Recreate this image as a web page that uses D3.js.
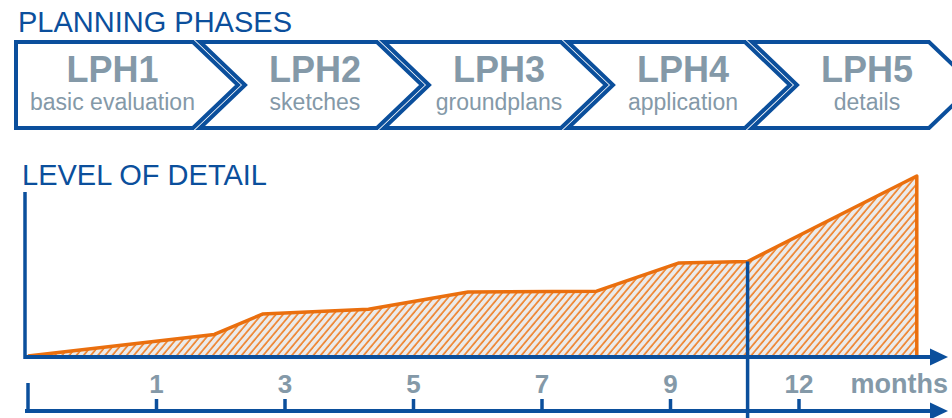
<!DOCTYPE html>
<html>
<head>
<meta charset="utf-8">
<script src="https://cdn.jsdelivr.net/npm/d3@7"></script>
<style>
  html, body { margin: 0; padding: 0; background: #fff; }
  svg { display: block; font-family: "Liberation Sans", Arial, Helvetica, sans-serif; }
</style>
</head>
<body>
<svg id="chart" width="952" height="418"></svg>
<script>
// Planning phases (chevrons)
const phaseCodes = ["LPH1", "LPH2", "LPH3", "LPH4", "LPH5"];
const phaseNames = ["basic evaluation", "sketches", "groundplans", "application", "details"];

// Timeline ticks (months)
const monthTicks = [0, 1, 3, 5, 7, 9, 12];
const tickLabels = ["", "1", "3", "5", "7", "9", "12"];

// Level of detail over time
const detailMonths = [0, 1.9, 2.65, 4.3, 5.85, 7.85, 9.2, 10.8, 14.75];
const detailLevels = [0, 12, 23.3, 26, 35.6, 36, 51.7, 52.5, 100];

// Phase boundary marker
const markerMonth = 10.8;

const BLUE = "#0b4f9c";
const GREY = "#8499a8";
const ORANGE = "#ea6f0e";

const svg = d3.select("#chart");

// ---------- hatch pattern for the area ----------
const defs = svg.append("defs");
const pat = defs.append("pattern")
  .attr("id", "hatch")
  .attr("patternUnits", "userSpaceOnUse")
  .attr("width", 5.5).attr("height", 10)
  .attr("patternTransform", "rotate(40)");
pat.append("rect").attr("width", 5.5).attr("height", 10).attr("fill", "#ebebeb");
pat.append("line")
  .attr("x1", 1).attr("y1", 0).attr("x2", 1).attr("y2", 10)
  .attr("stroke", "#ef7d22").attr("stroke-width", 1.6);

// ---------- titles ----------
svg.append("text").attr("x", 18).attr("y", 32)
  .attr("font-size", 29).attr("fill", BLUE).text("PLANNING PHASES");
svg.append("text").attr("x", 22).attr("y", 185)
  .attr("font-size", 29).attr("fill", BLUE).text("LEVEL OF DETAIL");

// ---------- chevrons ----------
const band = d3.scaleBand().domain(phaseCodes).range([16, 929]).paddingInner(0.038);
const depth = 45, yTop = 42, yBot = 128, yMid = (yTop + yBot) / 2;

const chev = svg.append("g").selectAll("g").data(phaseCodes).join("g");
chev.append("path")
  .attr("d", (d, i) => {
    const x0 = band(d), x1 = x0 + band.bandwidth();
    const p = d3.path();
    p.moveTo(x0, yTop);
    p.lineTo(x1, yTop);
    p.lineTo(x1 + depth, yMid);
    p.lineTo(x1, yBot);
    p.lineTo(x0, yBot);
    if (i > 0) p.lineTo(x0 + depth, yMid);
    p.closePath();
    return p.toString();
  })
  .attr("fill", "#fff").attr("stroke", BLUE).attr("stroke-width", 4)
  .attr("stroke-linejoin", "miter");

const labelX = (d, i) => {
  const x0 = band(d);
  return (x0 + (i > 0 ? depth : 8) + x0 + band.bandwidth()) / 2 + 4;
};
chev.append("text")
  .attr("x", labelX).attr("y", 82)
  .attr("text-anchor", "middle").attr("font-size", 36).attr("font-weight", "bold")
  .attr("fill", GREY).text(d => d);
chev.append("text")
  .attr("x", labelX).attr("y", 110)
  .attr("text-anchor", "middle").attr("font-size", 23)
  .attr("fill", GREY).text((d, i) => phaseNames[i]);

// ---------- scales ----------
const tickPos = d3.scalePoint().domain(monthTicks).range([28, 799]);
const x = d3.scaleLinear().domain(monthTicks).range(monthTicks.map(m => tickPos(m)));
const y = d3.scaleLinear().domain([0, 100]).range([356, 176]);

const pts = detailMonths.map((m, i) => [m, detailLevels[i]]);

// ---------- area ----------
const area = d3.area().x(d => x(d[0])).y0(y(0)).y1(d => y(d[1]));
svg.append("path").datum(pts)
  .attr("d", area).attr("fill", "url(#hatch)");

const last = pts[pts.length - 1];
const line = d3.line().x(d => x(d[0])).y(d => y(d[1]));
svg.append("path").datum(pts.concat([[last[0], 0]]))
  .attr("d", line).attr("fill", "none")
  .attr("stroke", ORANGE).attr("stroke-width", 3.5).attr("stroke-linejoin", "round");

// ---------- axes ----------
const axisG = svg.append("g").attr("stroke", BLUE).attr("fill", "none");
const arrow = (yy) => {
  axisG.append("line").attr("x1", 25).attr("x2", 934).attr("y1", yy).attr("y2", yy)
    .attr("stroke-width", 4);
  axisG.append("path")
    .attr("d", `M930,${yy - 8.5}L948,${yy}L930,${yy + 8.5}Z`)
    .attr("fill", BLUE).attr("stroke", "none");
};
// level axis (vertical) + time axis of the chart
axisG.append("line").attr("x1", 25).attr("x2", 25).attr("y1", 192).attr("y2", 359)
  .attr("stroke-width", 3.5);
arrow(357);

// month timeline
arrow(411);
const tickG = svg.append("g");
tickG.selectAll("line").data(monthTicks).join("line")
  .attr("x1", d => x(d)).attr("x2", d => x(d))
  .attr("y1", d => d === 0 ? 383 : 399).attr("y2", 411)
  .attr("stroke", BLUE).attr("stroke-width", 3.5);
tickG.selectAll("text").data(monthTicks).join("text")
  .attr("x", d => x(d)).attr("y", 393)
  .attr("text-anchor", "middle").attr("font-size", 26).attr("font-weight", "bold")
  .attr("fill", GREY).text((d, i) => tickLabels[i]);
svg.append("text").attr("x", 948).attr("y", 393)
  .attr("text-anchor", "end").attr("font-size", 27).attr("font-weight", "bold")
  .attr("fill", GREY).text("months");

// phase boundary marker
svg.append("line")
  .attr("x1", x(markerMonth)).attr("x2", x(markerMonth))
  .attr("y1", y(detailLevels[detailMonths.indexOf(markerMonth)])).attr("y2", 418)
  .attr("stroke", BLUE).attr("stroke-width", 3.5);
</script>
</body>
</html>
